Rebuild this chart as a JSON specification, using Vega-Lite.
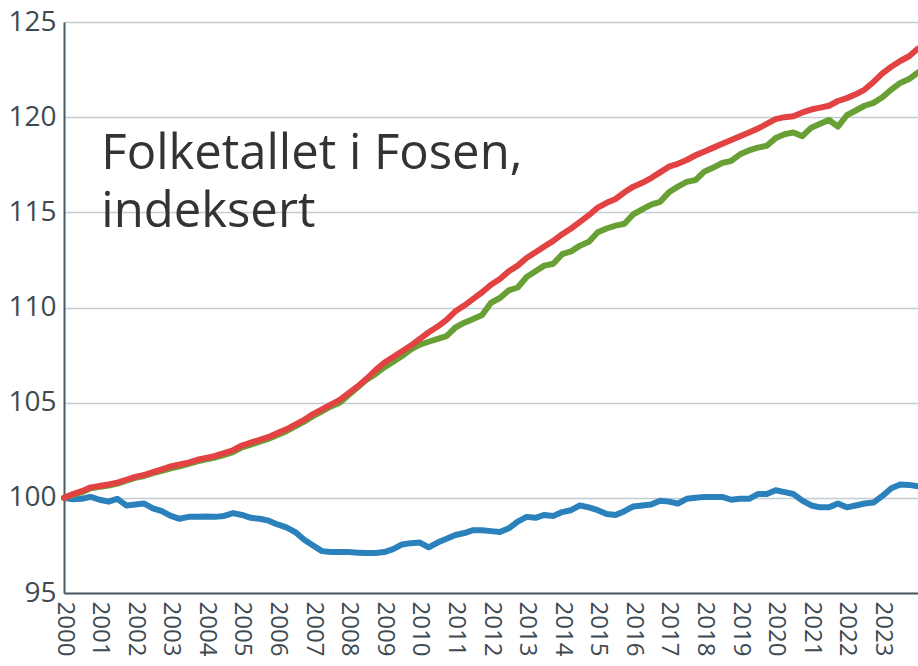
{
  "$schema": "https://vega.github.io/schema/vega-lite/v6.json",
  "width": 854,
  "height": 571,
  "autosize": "none",
  "padding": {"left": 64, "top": 22, "right": 0, "bottom": 73},
  "config": {"view": {"stroke": null}, "font": "Open Sans",
    "axisX": {"format": "d", "labelAngle": 90, "labelAlign": "left", "labelBaseline": "middle", "labelFontSize": 24, "labelColor": "#3d4a52",
      "labelPadding": 8, "ticks": false, "grid": false, "domainColor": "#4a5a64", "domainWidth": 2, "labelOverlap": false, "labelFlush": false, "labelBound": false, "title": null},
    "axisY": {"labelFontSize": 28, "labelColor": "#3d4a52",
      "labelPadding": 8, "ticks": false, "grid": true, "gridColor": "#c3ccd3", "gridWidth": 1.5,
      "domainColor": "#4a5a64", "domainWidth": 2, "labelFlush": false, "title": null}
  },
  "data": {"values": [
      {"t":2000.00,"r":100.0,"g":100.0,"b":100.0},
      {"t":2000.25,"r":100.2,"g":100.15,"b":99.92},
      {"t":2000.50,"r":100.35,"g":100.3,"b":99.95},
      {"t":2000.75,"r":100.55,"g":100.5,"b":100.05},
      {"t":2001.00,"r":100.62,"g":100.58,"b":99.9},
      {"t":2001.25,"r":100.7,"g":100.65,"b":99.8},
      {"t":2001.50,"r":100.8,"g":100.75,"b":99.95},
      {"t":2001.75,"r":100.95,"g":100.9,"b":99.6},
      {"t":2002.00,"r":101.1,"g":101.05,"b":99.65},
      {"t":2002.25,"r":101.2,"g":101.15,"b":99.7},
      {"t":2002.50,"r":101.35,"g":101.3,"b":99.45},
      {"t":2002.75,"r":101.5,"g":101.42,"b":99.3},
      {"t":2003.00,"r":101.65,"g":101.55,"b":99.05},
      {"t":2003.25,"r":101.75,"g":101.65,"b":98.9},
      {"t":2003.50,"r":101.85,"g":101.78,"b":99.0},
      {"t":2003.75,"r":102.0,"g":101.92,"b":99.0},
      {"t":2004.00,"r":102.1,"g":102.02,"b":99.02},
      {"t":2004.25,"r":102.2,"g":102.12,"b":99.0},
      {"t":2004.50,"r":102.35,"g":102.25,"b":99.05},
      {"t":2004.75,"r":102.5,"g":102.4,"b":99.2},
      {"t":2005.00,"r":102.75,"g":102.65,"b":99.1},
      {"t":2005.25,"r":102.9,"g":102.8,"b":98.95},
      {"t":2005.50,"r":103.05,"g":102.95,"b":98.9},
      {"t":2005.75,"r":103.2,"g":103.1,"b":98.8},
      {"t":2006.00,"r":103.4,"g":103.3,"b":98.6},
      {"t":2006.25,"r":103.6,"g":103.5,"b":98.45},
      {"t":2006.50,"r":103.85,"g":103.75,"b":98.2},
      {"t":2006.75,"r":104.1,"g":104.0,"b":97.8},
      {"t":2007.00,"r":104.4,"g":104.3,"b":97.5},
      {"t":2007.25,"r":104.65,"g":104.55,"b":97.2},
      {"t":2007.50,"r":104.9,"g":104.8,"b":97.15},
      {"t":2007.75,"r":105.15,"g":105.0,"b":97.15},
      {"t":2008.00,"r":105.5,"g":105.4,"b":97.15},
      {"t":2008.25,"r":105.85,"g":105.8,"b":97.12},
      {"t":2008.50,"r":106.25,"g":106.2,"b":97.1},
      {"t":2008.75,"r":106.7,"g":106.5,"b":97.1},
      {"t":2009.00,"r":107.1,"g":106.85,"b":97.15},
      {"t":2009.25,"r":107.4,"g":107.15,"b":97.3},
      {"t":2009.50,"r":107.7,"g":107.45,"b":97.55},
      {"t":2009.75,"r":108.0,"g":107.8,"b":97.62},
      {"t":2010.00,"r":108.35,"g":108.05,"b":97.65},
      {"t":2010.25,"r":108.7,"g":108.2,"b":97.4},
      {"t":2010.50,"r":109.0,"g":108.35,"b":97.65},
      {"t":2010.75,"r":109.35,"g":108.5,"b":97.85},
      {"t":2011.00,"r":109.8,"g":108.95,"b":98.05},
      {"t":2011.25,"r":110.1,"g":109.2,"b":98.15},
      {"t":2011.50,"r":110.45,"g":109.4,"b":98.3},
      {"t":2011.75,"r":110.8,"g":109.6,"b":98.3},
      {"t":2012.00,"r":111.2,"g":110.25,"b":98.25},
      {"t":2012.25,"r":111.5,"g":110.5,"b":98.2},
      {"t":2012.50,"r":111.9,"g":110.9,"b":98.4},
      {"t":2012.75,"r":112.2,"g":111.05,"b":98.75},
      {"t":2013.00,"r":112.6,"g":111.6,"b":99.0},
      {"t":2013.25,"r":112.9,"g":111.9,"b":98.95},
      {"t":2013.50,"r":113.2,"g":112.2,"b":99.1},
      {"t":2013.75,"r":113.5,"g":112.3,"b":99.05},
      {"t":2014.00,"r":113.85,"g":112.8,"b":99.25},
      {"t":2014.25,"r":114.15,"g":112.95,"b":99.35},
      {"t":2014.50,"r":114.5,"g":113.25,"b":99.6},
      {"t":2014.75,"r":114.85,"g":113.45,"b":99.5},
      {"t":2015.00,"r":115.25,"g":113.95,"b":99.35},
      {"t":2015.25,"r":115.5,"g":114.15,"b":99.15},
      {"t":2015.50,"r":115.7,"g":114.3,"b":99.1},
      {"t":2015.75,"r":116.05,"g":114.4,"b":99.3},
      {"t":2016.00,"r":116.35,"g":114.9,"b":99.55},
      {"t":2016.25,"r":116.55,"g":115.15,"b":99.6},
      {"t":2016.50,"r":116.8,"g":115.4,"b":99.65},
      {"t":2016.75,"r":117.1,"g":115.55,"b":99.85},
      {"t":2017.00,"r":117.4,"g":116.05,"b":99.8},
      {"t":2017.25,"r":117.55,"g":116.35,"b":99.7},
      {"t":2017.50,"r":117.75,"g":116.6,"b":99.95},
      {"t":2017.75,"r":118.0,"g":116.7,"b":100.0},
      {"t":2018.00,"r":118.2,"g":117.15,"b":100.05},
      {"t":2018.25,"r":118.4,"g":117.35,"b":100.05},
      {"t":2018.50,"r":118.6,"g":117.6,"b":100.05},
      {"t":2018.75,"r":118.8,"g":117.7,"b":99.9},
      {"t":2019.00,"r":119.0,"g":118.05,"b":99.95},
      {"t":2019.25,"r":119.2,"g":118.25,"b":99.95},
      {"t":2019.50,"r":119.4,"g":118.4,"b":100.2},
      {"t":2019.75,"r":119.65,"g":118.5,"b":100.2},
      {"t":2020.00,"r":119.9,"g":118.9,"b":100.4},
      {"t":2020.25,"r":120.0,"g":119.1,"b":100.3},
      {"t":2020.50,"r":120.05,"g":119.2,"b":100.2},
      {"t":2020.75,"r":120.25,"g":119.0,"b":99.85},
      {"t":2021.00,"r":120.4,"g":119.45,"b":99.6},
      {"t":2021.25,"r":120.5,"g":119.65,"b":99.5},
      {"t":2021.50,"r":120.6,"g":119.85,"b":99.5},
      {"t":2021.75,"r":120.85,"g":119.5,"b":99.7},
      {"t":2022.00,"r":121.0,"g":120.1,"b":99.5},
      {"t":2022.25,"r":121.2,"g":120.35,"b":99.6},
      {"t":2022.50,"r":121.45,"g":120.6,"b":99.7},
      {"t":2022.75,"r":121.85,"g":120.75,"b":99.75},
      {"t":2023.00,"r":122.3,"g":121.05,"b":100.1},
      {"t":2023.25,"r":122.65,"g":121.45,"b":100.5},
      {"t":2023.50,"r":122.95,"g":121.8,"b":100.7},
      {"t":2023.75,"r":123.2,"g":122.0,"b":100.68},
      {"t":2024.00,"r":123.6,"g":122.35,"b":100.6}
  ]},
  "encoding": {
    "x": {"field": "t", "type": "quantitative", "scale": {"domain": [2000, 2024], "nice": false, "zero": false},
      "axis": {"values": [2000,2001,2002,2003,2004,2005,2006,2007,2008,2009,2010,2011,2012,2013,2014,2015,2016,2017,2018,2019,2020,2021,2022,2023]}}
  },
  "layer": [
    {
      "mark": {"type": "line", "color": "#2b81bb", "strokeWidth": 6, "strokeJoin": "round", "strokeCap": "round"},
      "encoding": {"y": {"field": "b", "type": "quantitative", "scale": {"domain": [95, 125], "nice": false, "zero": false},
        "axis": {"values": [95,100,105,110,115,120,125]}}}
    },
    {
      "mark": {"type": "line", "color": "#68a035", "strokeWidth": 6, "strokeJoin": "round", "strokeCap": "round"},
      "encoding": {"y": {"field": "g", "type": "quantitative"}}
    },
    {
      "mark": {"type": "line", "color": "#e24342", "strokeWidth": 6, "strokeJoin": "round", "strokeCap": "round"},
      "encoding": {"y": {"field": "r", "type": "quantitative"}}
    },
    {
      "data": {"values": [{"t":2001.05,"v":117.26,"text":"Folketallet i Fosen,\nindeksert"}]},
      "mark": {"type": "text", "align": "left", "baseline": "alphabetic", "fontSize": 49, "lineBreak": "\n", "lineHeight": 58, "color": "#333333", "font": "Open Sans"},
      "encoding": {
        "y": {"field": "v", "type": "quantitative"},
        "text": {"field": "text"}
      }
    }
  ]
}
